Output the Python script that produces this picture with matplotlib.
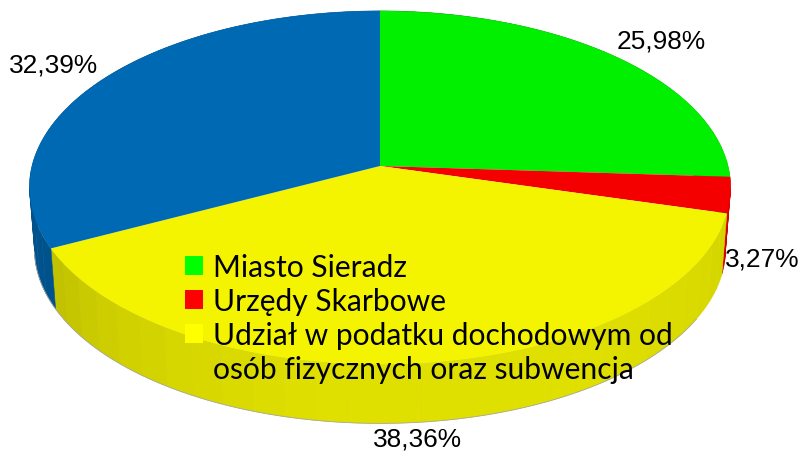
import numpy as np
import matplotlib
matplotlib.use("Agg")
import matplotlib.pyplot as plt
from matplotlib.patches import Patch
from matplotlib.transforms import Transform

# ---- data ----
categories = ["Miasto Sieradz", "Urzędy Skarbowe",
              "Udział w podatku dochodowym od", "osób fizycznych oraz subwencja"]
values = [25.98, 3.27, 38.36, 32.39]
value_labels = ["25,98%", "3,27%", "38,36%", "32,39%"]
top_colors = ["#00F000", "#F50000", "#F4F400", "#0069B4"]
legend_colors = ["#00FF00", "#FF0000", "#FFFF00", "none"]


class Perspective(Transform):
    """Projects the unit pie disc on a tilted plane, in pixel coordinates."""
    input_dims = output_dims = 2

    def __init__(self, cx, cy, rx, ry, k):
        super().__init__()
        self.p = (cx, cy, rx, ry, k)

    def transform_non_affine(self, xy):
        cx, cy, rx, ry, k = self.p
        xy = np.asarray(xy, float)
        u, v = xy[:, 0], -xy[:, 1]
        d = 1 - k * v
        return np.column_stack([cx + rx * u / d, cy + ry * v / d])

    def inverted(self):
        raise NotImplementedError


top_proj = Perspective(380, 167, 348, 174, 0.122)
bottom_proj = Perspective(380, 228.5, 343, 172, 0.122)


def shade(theta):
    if theta >= 170:
        return max(0.78, 0.92 - 0.14 * ((theta - 170) / 75) ** 2)
    return 0.92 - 0.05 * ((theta - 170) / 65) ** 2


fig = plt.figure(figsize=(8, 4.52), dpi=100)
ax = fig.add_axes([0, 0, 1, 1])

# side wall, split in flat facets
edges = np.concatenate([[0], np.cumsum(values)]) / sum(values) * 360
for a0, a1, col in zip(edges[:-1], edges[1:], top_colors):
    steps = max(1, int(np.ceil((a1 - a0) / 5)))
    ts = np.linspace(a0, a1, steps + 1)
    base = np.array(matplotlib.colors.to_rgb(col))
    for t0, t1 in zip(ts[:-1], ts[1:]):
        tt = np.radians(np.linspace(t0, t1, 5))
        circ = np.column_stack([np.sin(tt), np.cos(tt)])
        up = top_proj.transform_non_affine(circ)
        lo = bottom_proj.transform_non_affine(circ)
        poly = np.vstack([up, lo[::-1]])
        c = base * shade((t0 + t1) / 2)
        ax.fill(poly[:, 0], poly[:, 1], color=c, lw=0.4, zorder=1)

tt = np.radians(np.linspace(120, 262, 200))
lo = bottom_proj.transform_non_affine(np.column_stack([np.sin(tt), np.cos(tt)]))
ax.plot(lo[:, 0], lo[:, 1], color="#A8A8A0", lw=0.6, zorder=1.5)

# top face
wedges, _ = ax.pie(values, colors=top_colors, startangle=90, counterclock=False,
                   wedgeprops=dict(linewidth=0))
for w in wedges:
    w.set_transform(top_proj + ax.transData)
    w.set_clip_on(False)
    w.set_zorder(2)

ax.set_aspect("auto")
ax.set_xlim(0, 800)
ax.set_ylim(452, 0)
ax.axis("off")

# value labels
label_pos = [(661, 42), (762, 260), (417, 440), (54, 66)]
for (x, y), s in zip(label_pos, value_labels):
    ax.text(x, y, s, ha="center", va="center", fontsize=18.9,
            family="Liberation Sans", color="#000000", zorder=4)

handles = [Patch(facecolor=c, edgecolor="none") for c in legend_colors]
leg = ax.legend(handles, categories, loc="upper left",
                bbox_to_anchor=(185 / 800, 1 - 254 / 452), frameon=False,
                prop=dict(family="Lato", size=21.6), handlelength=0.6, handleheight=0.6,
                handletextpad=0.33, labelspacing=0.2, borderpad=0, borderaxespad=0,
                labelcolor="#000000")
leg.set_zorder(5)

fig.savefig("out.png", dpi=100)
